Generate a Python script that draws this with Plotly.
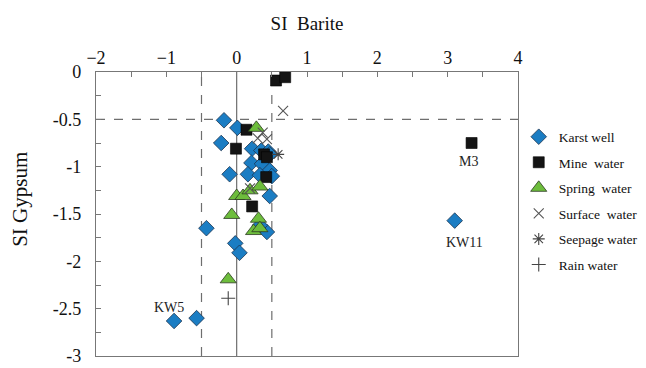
import plotly.graph_objects as go

# Saturation indices (SI Barite, SI Gypsum) by water type
karst_x = [-0.18, -0.22, 0.01, 0.22, 0.35, 0.45, 0.47, 0.21, 0.36, 0.47, -0.10, 0.16, 0.33, 0.50,
           0.47, -0.43, 0.43, 0.33, -0.02, 0.04, -0.89, -0.57, 3.10]
karst_y = [-0.51, -0.75, -0.59, -0.81, -0.83, -0.84, -0.87, -0.96, -0.97, -1.04, -1.08, -1.08, -1.09, -1.10,
           -1.31, -1.65, -1.69, -1.62, -1.81, -1.91, -2.63, -2.60, -1.57]

mine_x = [0.56, 0.69, 0.14, -0.01, 0.39, 0.43, 0.42, 0.22, 3.34]
mine_y = [-0.09, -0.055, -0.61, -0.81, -0.87, -0.90, -1.11, -1.42, -0.75]

spring_x = [0.28, 0.00, 0.09, 0.19, 0.33, -0.07, 0.31, 0.24, 0.33, -0.12]
spring_y = [-0.59, -1.31, -1.31, -1.25, -1.21, -1.51, -1.55, -1.68, -1.65, -2.19]

surface_x = [0.66, 0.37, 0.30, 0.43, 0.19]
surface_y = [-0.41, -0.64, -0.70, -0.71, -1.23]

seepage_x = [0.59]
seepage_y = [-0.87]

rain_x = [-0.12]
rain_y = [-2.39]

labels = ["KW5", "KW11", "M3"]
label_x = [-0.96, 3.24, 3.29]
label_y = [-2.49, -1.80, -0.95]

x_ticks = [-2, -1, 0, 1, 2, 3, 4]
y_ticks = [0, -0.5, -1, -1.5, -2, -2.5, -3]

SERIF = "Liberation Serif, Times New Roman, serif"
GRID = "#6e6e6e"
NB = "\u00a0"

fig = go.Figure()

fig.add_trace(go.Scatter(
    x=karst_x, y=karst_y, mode="markers", name="Karst well", legendgroup="a",
    marker=dict(symbol="diamond", size=12, color="#1b7dc3",
                line=dict(color="#1d3550", width=0.8))))
fig.add_trace(go.Scatter(
    x=mine_x, y=mine_y, mode="markers", name="Mine" + NB + " water", legendgroup="b",
    marker=dict(symbol="square", size=11, color="#141414",
                line=dict(color="#000000", width=0.6))))
fig.add_trace(go.Scatter(
    x=spring_x, y=spring_y, mode="markers", name="Spring" + NB + " water", legendgroup="c",
    marker=dict(symbol="triangle-up", size=14, color="#6dbd3c",
                line=dict(color="#2c3a22", width=0.8))))
fig.add_trace(go.Scatter(
    x=surface_x, y=surface_y, mode="markers", name="Surface" + NB + " water", legendgroup="d",
    marker=dict(symbol="x-thin", size=10, color="#555555",
                line=dict(color="#555555", width=1.1))))
fig.add_trace(go.Scatter(
    x=seepage_x, y=seepage_y, mode="markers", name="Seepage water", legendgroup="e",
    marker=dict(symbol="asterisk", size=10, color="#444444",
                line=dict(color="#444444", width=1.1))))
fig.add_trace(go.Scatter(
    x=rain_x, y=rain_y, mode="markers", name="Rain water", legendgroup="f",
    marker=dict(symbol="cross-thin", size=10, color="#444444",
                line=dict(color="#444444", width=1.1))))

# Reference lines: SI Barite = -0.5, 0, 0.5 and SI Gypsum = -0.5
for xv, dash in [(-0.5, "dash"), (0.5, "dash"), (0, "solid")]:
    fig.add_shape(type="line", xref="x", yref="paper", x0=xv, x1=xv, y0=0, y1=1,
                  line=dict(color=GRID, width=1.2, dash=dash), layer="below")
fig.add_shape(type="line", xref="paper", yref="y", x0=0, x1=1, y0=-0.5, y1=-0.5,
              line=dict(color=GRID, width=1.2, dash="dash"), layer="below")

for t, xv, yv in zip(labels, label_x, label_y):
    fig.add_annotation(x=xv, y=yv, text=t, showarrow=False,
                       font=dict(family=SERIF, size=14, color="#222222"))

# Y-axis title placed as a rotated paper annotation
fig.add_annotation(xref="paper", yref="paper", x=-0.18, y=0.55, text="SI Gypsum",
                   textangle=-90, showarrow=False, xanchor="center", yanchor="middle",
                   font=dict(family=SERIF, size=21, color="#111111"))

fig.update_layout(
    width=646, height=368,
    margin=dict(l=96, r=128, t=72, b=12),
    paper_bgcolor="white", plot_bgcolor="white",
    font=dict(family=SERIF, color="#111111"),
    legend=dict(xref="container", yref="container", x=0.803, y=0.67,
                xanchor="left", yanchor="top",
                font=dict(family=SERIF, size=13.5, color="#111111"),
                tracegroupgap=5, bgcolor="rgba(0,0,0,0)"),
    xaxis=dict(
        side="top", range=[-2, 4], showgrid=False, zeroline=False, automargin=False,
        showline=True, linecolor="#777777", linewidth=1.2, mirror=True,
        tickmode="array", tickvals=x_ticks,
        ticktext=[("\u2212" + str(-v)) if v < 0 else str(v) for v in x_ticks],
        ticks="inside", ticklen=5, tickcolor="#777777",
        minor=dict(dtick=0.5, ticks="inside", ticklen=5, tickcolor="#777777"),
        tickfont=dict(family=SERIF, size=18, color="#111111"),
        title=dict(text="SI  Barite", font=dict(family=SERIF, size=19, color="#111111"), standoff=12),
    ),
    yaxis=dict(
        range=[-3, 0], showgrid=False, zeroline=False, automargin=False,
        showline=True, linecolor="#777777", linewidth=1.2, mirror=True,
        tickmode="array", tickvals=y_ticks,
        ticktext=["0" if v == 0 else ("-" + f"{-v:g}") for v in y_ticks],
        ticks="inside", ticklen=5, tickcolor="#777777",
        minor=dict(dtick=0.25, ticks="inside", ticklen=5, tickcolor="#777777"),
        tickfont=dict(family=SERIF, size=18, color="#111111"),
        ticklabelstandoff=10, ticklabeloverflow="allow",
    ),
)

fig.write_html("out.html")
